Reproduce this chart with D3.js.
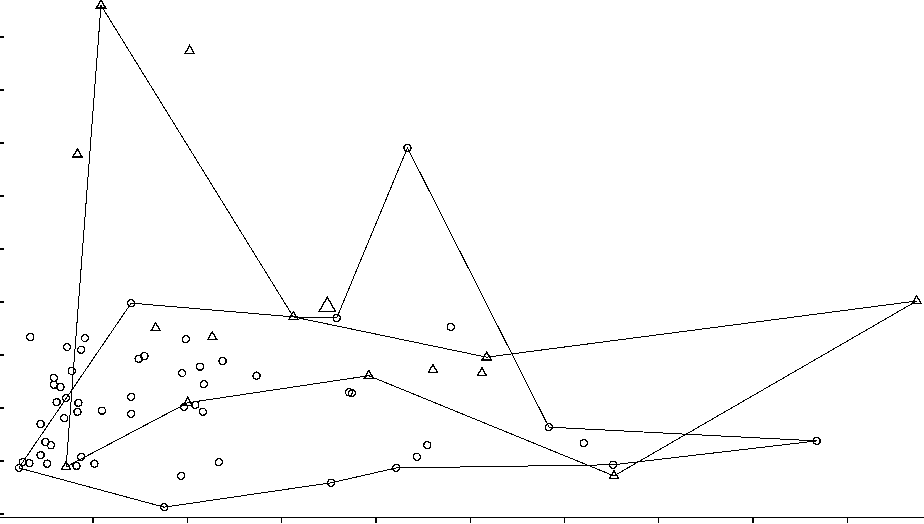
<!DOCTYPE html>
<html>
<head>
<meta charset="utf-8">
<script src="https://cdn.jsdelivr.net/npm/d3@7"></script>
<style>
  body { margin: 0; background: #fff; }
  svg { display: block; }
</style>
</head>
<body>
<svg id="vis"></svg>
<script>

WIDTH = 924;
HEIGHT = 524;

// closed tour through the marked points (last one joins back to the first)
const tourX = [0.72, 1.09, 3.13, 3.59, 4.34, 5.84, 8.68, 6.52, 4.22, 3.53, 1.76, 0.22, 0.26, 1.41, 3.13, 5.18, 9.74, 6.53, 3.93, 2.01];
const tourY = [0.87, 9.58, 3.70, 3.68, 6.89, 1.62, 1.36, 0.91, 0.85, 0.57, 0.11, 0.85, 0.96, 3.96, 3.70, 2.94, 4.00, 0.70, 2.59, 2.08];
const tourShape = ["t", "t", "t", "c", "c", "c", "c", "c", "c", "c", "c", "c", "c", "c", "t", "t", "t", "t", "t", "t"];

// loose circles
const circX = [0.34, 0.92, 0.73, 0.88, 0.78, 0.59, 0.59, 0.66, 0.72, 0.62, 0.85, 0.84, 0.70, 0.45, 1.10, 1.41, 1.41,
    0.50, 0.56, 0.45, 0.33, 0.52, 0.88, 0.83, 1.02, 1.49, 1.55, 1.99, 2.38, 2.14, 1.95, 2.74, 2.18, 1.97, 2.09,
    2.17, 2.34, 1.94, 3.72, 3.75, 4.80, 4.55, 4.44, 6.21];
const circY = [3.32, 3.30, 3.13, 3.08, 2.68, 2.55, 2.42, 2.38, 2.17, 2.09, 2.08, 1.91, 1.79, 1.68, 1.93, 2.19, 1.87,
    1.34, 1.28, 1.09, 0.94, 0.93, 1.06, 0.89, 0.93, 2.91, 2.96, 3.28, 2.87, 2.76, 2.64, 2.59, 2.43, 2.00, 2.04,
    1.91, 0.96, 0.70, 2.28, 2.26, 3.51, 1.28, 1.06, 1.32];

// loose triangles (last one is drawn large)
const triX = [2.03, 0.84, 1.67, 2.27, 4.61, 5.13, 3.49];
const triY = [8.72, 6.77, 3.49, 3.32, 2.70, 2.64, 3.89];
const triBig = [false, false, false, false, false, false, true];

const xTicks = [1, 2, 3, 4, 5, 6, 7, 8, 9];
const yTicks = [0, 1, 2, 3, 4, 5, 6, 7, 8, 9];

const SVG = d3.select("#vis")
    .attr("width", WIDTH)
    .attr("height", HEIGHT)
    .attr("shape-rendering", "crispEdges");

const x = d3.scaleLinear().domain([0, 10]).range([-1.8, 941.2]);
const y = d3.scaleLinear().domain([0, 10]).range([513, -17]);

// bottom axis
const xAxis = SVG.append("g")
    .attr("transform", `translate(0,${517})`)
    .call(d3.axisBottom(x).tickValues(xTicks).tickSize(6).tickSizeOuter(0).tickFormat(""));
xAxis.selectAll("path, line").attr("stroke", "#000").attr("stroke-width", 1.3);

// left ticks, no line
const yAxis = SVG.append("g")
    .attr("transform", "translate(0,0)")
    .call(d3.axisRight(y).tickValues(yTicks).tickSize(4).tickFormat(""));
yAxis.select(".domain").remove();
yAxis.selectAll("line").attr("stroke", "#000").attr("stroke-width", 2);

// tour path
const tour = tourX.map((d, i) => [x(d), y(tourY[i])]);
SVG.append("path")
    .attr("d", d3.line().curve(d3.curveLinearClosed)(tour))
    .attr("fill", "none")
    .attr("stroke", "#000")
    .attr("stroke-width", 1);

const tri = d3.symbol().type(d3.symbolTriangle);
const circ = d3.symbol().type(d3.symbolCircle).size(40);

// loose circles
SVG.append("g")
    .selectAll("path")
    .data(circX.map((d, i) => [d, circY[i]]))
    .join("path")
    .attr("d", circ)
    .attr("transform", d => `translate(${x(d[0])},${y(d[1])})`)
    .attr("fill", "none")
    .attr("stroke", "#000")
    .attr("stroke-width", 1.4);

// loose triangles
SVG.append("g")
    .selectAll("path")
    .data(triX.map((d, i) => [d, triY[i], triBig[i]]))
    .join("path")
    .attr("d", d => tri.size(d[2] ? 120 : 36)())
    .attr("transform", d => `translate(${x(d[0])},${y(d[1])})`)
    .attr("fill", "none")
    .attr("stroke", "#000")
    .attr("stroke-width", 1.4);

// markers on the tour
SVG.append("g")
    .selectAll("path")
    .data(tour.map((d, i) => [d[0], d[1], tourShape[i]]))
    .join("path")
    .attr("d", d => d[2] === "t" ? tri.size(36)() : circ())
    .attr("transform", d => `translate(${d[0]},${d[1]})`)
    .attr("fill", "none")
    .attr("stroke", "#000")
    .attr("stroke-width", 1.4);

</script>
</body>
</html>
